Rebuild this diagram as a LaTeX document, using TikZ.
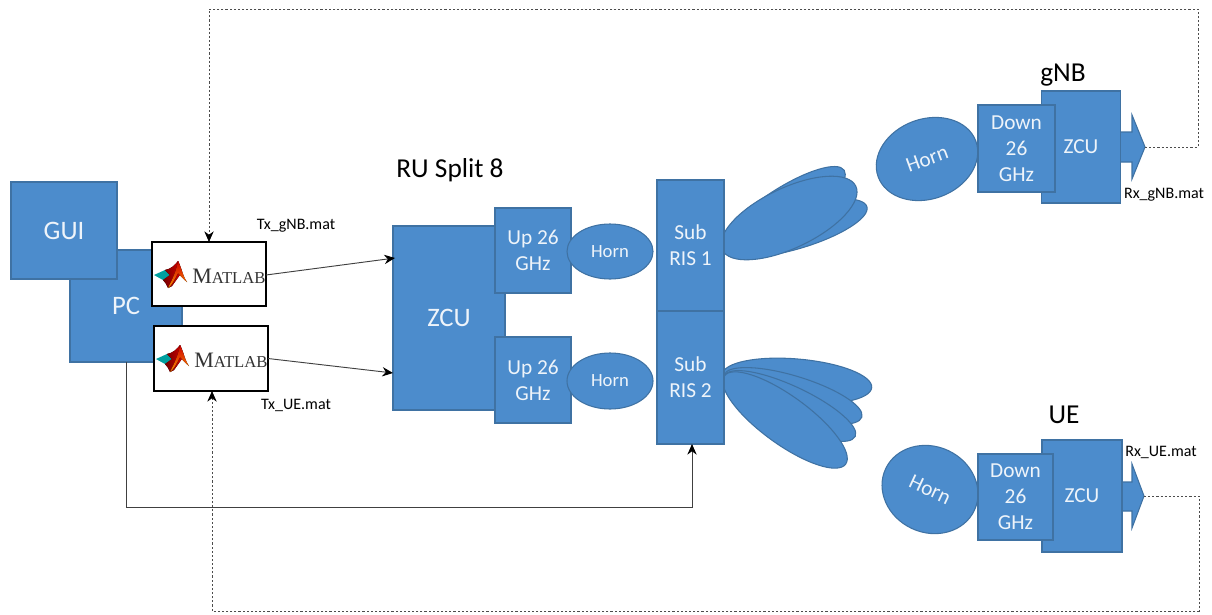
\documentclass[tikz,border=0pt]{standalone}
\usepackage{fontspec}
\setmainfont{Carlito}
\newfontfamily\serifm{Liberation Serif}
\usetikzlibrary{shapes.geometric,arrows.meta}
\definecolor{bfill}{HTML}{4C8CCC}
\definecolor{bline}{HTML}{3F72A3}
\definecolor{txtw}{HTML}{EEF4FA}
\tikzset{
  sz/.style 2 args={minimum width=#1*0.75pt,minimum height=#2*0.75pt,inner sep=0pt,outer sep=0pt},
  fs/.style 2 args={font=\fontsize{#1pt}{#2pt}\selectfont},
  low/.style={execute at begin node={\vspace*{#1}}},
  bluebox/.style={draw=bline,fill=bfill,line width=0.8pt,text=txtw,align=center},
  lobe/.style={draw=bline,fill=bfill,line width=0.8pt},
  whitebox/.style={draw=black,fill=white,line width=1pt},
  link/.style={draw=black!75,line width=0.7pt,-{Stealth[length=8pt,width=7pt,color=black]}},
  sig/.style={draw=black!70,line width=0.6pt,dash pattern=on 1.6pt off 1.5pt},
  sigtip/.style={sig,-{Stealth[length=8pt,width=7pt,color=black]}},
  lab/.style={font=\fontsize{12pt}{14pt}\selectfont,text=black,inner sep=0pt},
  head/.style={font=\fontsize{20.5pt}{24pt}\selectfont,text=black,inner sep=0pt},
}
\newcommand{\mlogo}[2]{%
  \begin{scope}[shift={(#1,#2)}]
    \fill[teal!75!cyan] (2,33) -- (13,28) .. controls (15,29) and (17,31) .. (18,33) -- (11,38) -- cycle;
    \fill[left color=red!45!black,right color=red!85!black] (13,28) .. controls (19,27) and (23,23) .. (26,19) -- (30,30) -- (20,44) -- (16,46) .. controls (15,43) and (13,40) .. (11,38) -- (18,33) -- cycle;
    \fill[top color=red!80!black,bottom color=orange!90!yellow] (26,19) .. controls (29,24) and (31,35) .. (35,40) .. controls (31,37) and (28,33) .. (26,31) .. controls (23,37) and (20,43) .. (16,46) .. controls (20,38) and (24,30) .. (26,19) -- cycle;
    \node[inner sep=0pt,anchor=west,text=black!80] at (40,34)
      {\serifm\fontsize{16.5pt}{18pt}\selectfont M\fontsize{12.5pt}{14pt}\selectfont ATLAB};
  \end{scope}}
\begin{document}
\begin{tikzpicture}[x=0.75pt,y=-0.75pt]
\useasboundingbox (0,0) rectangle (1212,614);
% left group
\node[bluebox,sz={112}{112},fs={20}{24},low=3pt] (pc) at (126,306) {PC};
\node[bluebox,sz={106}{97},fs={20}{24},low=3pt] (gui) at (64,230.5) {GUI};
\node[whitebox,sz={114}{64}] (m1) at (209,274) {};
\node[whitebox,sz={114}{65}] (m2) at (211,358.5) {};
\mlogo{152}{242}
\mlogo{154}{326}
\node[lab] (txg) at (296,225.5) {Tx\_gNB.mat};
\node[lab] (txu) at (296,405) {Tx\_UE.mat};
% RU
\node[head] (ru) at (450,170) {RU Split 8};
\node[bluebox,sz={112}{184},fs={20}{24},low=3pt] (zcu) at (449,318) {ZCU};
\node[bluebox,sz={76}{85},fs={16}{19.5},low=4pt] (up1) at (533,250.5) {Up 26\\GHz};
\node[bluebox,sz={76}{86},fs={16}{19.5},low=4pt] (up2) at (533,380) {Up 26\\GHz};
\node[bluebox,ellipse,sz={86}{55},fs={14}{16}] (h1) at (610,251.5) {Horn};
\node[bluebox,ellipse,sz={86}{56},fs={14}{16}] (h2) at (610,381) {Horn};
% lobes
\path[lobe] (783,210) ellipse [x radius=73,y radius=21,rotate=33];
\path[lobe] (795,228) ellipse [x radius=75,y radius=21,rotate=16.5];
\path[lobe] (789,218) ellipse [x radius=74,y radius=30,rotate=25.5];
\path[lobe] (797,381) ellipse [x radius=75,y radius=22,rotate=-5];
\path[lobe] (793,396) ellipse [x radius=72,y radius=20,rotate=-17];
\path[lobe] (790,406) ellipse [x radius=72,y radius=20,rotate=-25];
\path[lobe] (785,420) ellipse [x radius=75,y radius=24,rotate=-36];
\node[bluebox,sz={67}{131},fs={16}{19.5},low=6pt] (ris1) at (690.5,245.5) {Sub\\RIS 1};
\node[bluebox,sz={67}{133},fs={16}{19.5},low=4pt] (ris2) at (690.5,377.5) {Sub\\RIS 2};
% gNB
\node[bluebox,ellipse,sz={104}{80},rotate=20,fs={16}{18}] (hg) at (927,159) {Horn};
\node[head] (gnb) at (1063,75) {gNB};
\path[lobe] (1120,132) -- (1132,132) -- (1132,115) -- (1145,147) -- (1132,179) -- (1132,162) -- (1120,162) -- cycle;
\coordinate (gtip) at (1145,147);
\node[bluebox,sz={79}{112},fs={16}{20},low=3pt] (zg) at (1081,147) {ZCU};
\node[bluebox,sz={77}{87},fs={16}{19.5},low=4pt] (dg) at (1016.5,148.5) {Down\\26\\GHz};
\node[lab] (rxg) at (1164,195) {Rx\_gNB.mat};
% UE
\node[bluebox,ellipse,sz={98}{86},rotate=-25,fs={16}{18}] (hu) at (930,489.5) {Horn};
\node[head] (ue) at (1064,415) {UE};
\path[lobe] (1120,482) -- (1132,482) -- (1132,464) -- (1144,496) -- (1132,528) -- (1132,511) -- (1120,511) -- cycle;
\coordinate (utip) at (1144,496);
\node[bluebox,sz={80}{112},fs={16}{20},low=3pt] (zu) at (1082,496) {ZCU};
\node[bluebox,sz={75}{86},fs={16}{19.5},low=4pt] (du) at (1015.5,497) {Down\\26\\GHz};
\node[lab] (rxu) at (1161,452) {Rx\_UE.mat};
% connectors
\coordinate (a1) at (395,258);
\coordinate (a2) at (393,373);
\coordinate (pcb) at (126,362);
\coordinate (risb) at (692,444);
\draw[link] (m1.east) ++(0,1) -- (a1);
\draw[link] (m2.east) -- (a2);
\draw[link] (pcb) -- (126,507) -- (692,507) -- (risb);
\coordinate (mt) at (209,242);
\coordinate (mb) at (212,391);
\draw[sigtip] (gtip) -- (1198,147) -- (1198,9) -- (209,9) -- (mt);
\draw[sigtip] (utip) -- (1199,496) -- (1199,611) -- (212,611) -- (mb);
\end{tikzpicture}
\end{document}
